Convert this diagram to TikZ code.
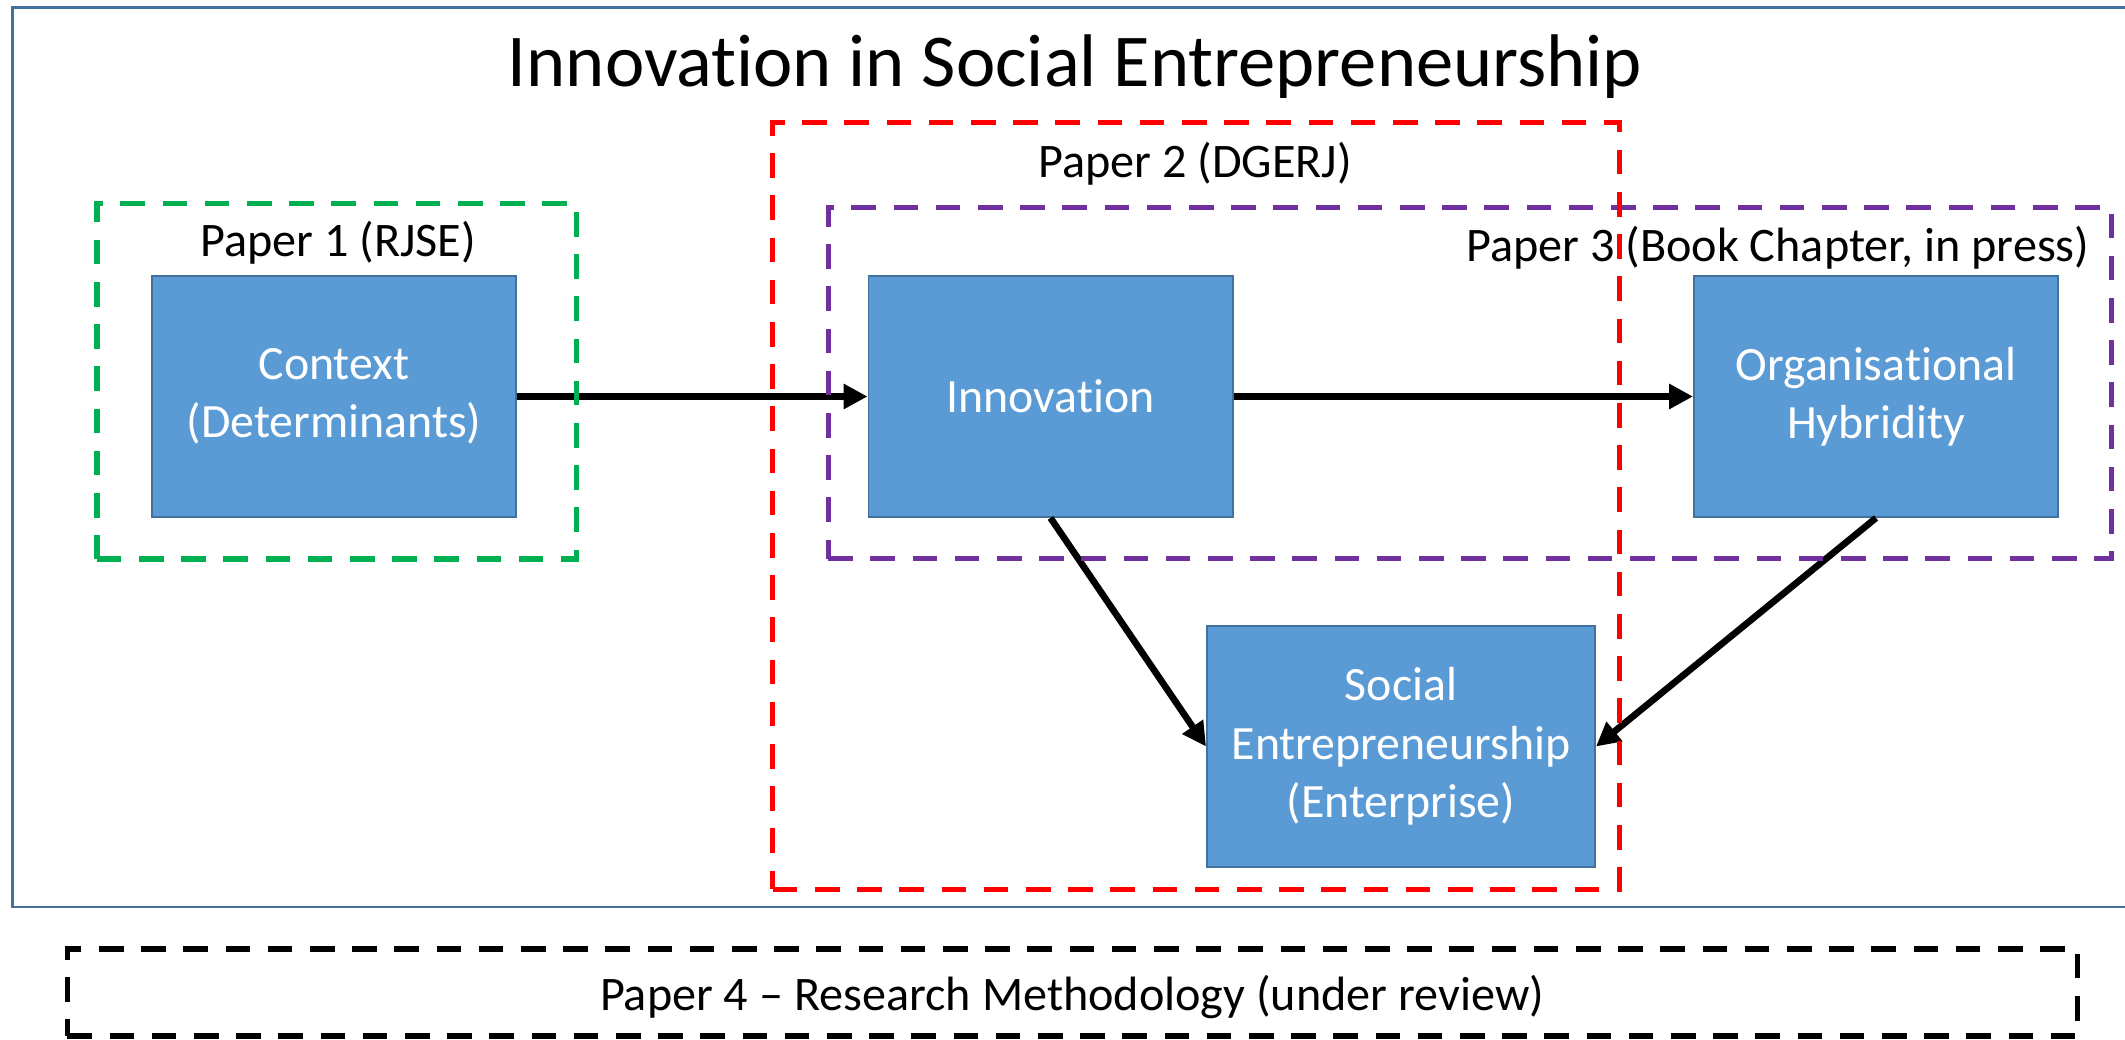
\documentclass[tikz,border=0pt]{standalone}
\usepackage{fontspec}
\setmainfont{Carlito}[Ligatures=NoCommon]
\usetikzlibrary{arrows.meta}

\definecolor{frameblue}{RGB}{65,113,156}
\definecolor{boxfill}{RGB}{91,155,213}
\definecolor{boxline}{RGB}{65,113,156}
\definecolor{pgreen}{RGB}{0,176,80}
\definecolor{pred}{RGB}{255,0,0}
\definecolor{ppurple}{RGB}{112,48,160}

\begin{document}
\begin{tikzpicture}[x=0.01cm,y=-0.01cm,
  concept/.style={draw=boxline, line width=0.5pt, fill=boxfill, text=white,
    inner sep=0pt, minimum width=3.64cm, minimum height=2.41cm,
    align=center, font=\fontsize{13.6}{16.6}\selectfont},
  paperbox/.style={draw=#1, line width=1.5pt, dash pattern=on 7pt off 5pt,
    inner sep=0pt},
  paperlabel/.style={inner sep=0pt, font=\fontsize{13.7}{16.6}\selectfont},
  arr/.style={line width=1.9pt, -{Triangle[length=6.8pt,width=6.8pt]}}
]
\useasboundingbox (0,0) rectangle (2125,1040);

% outer frame
\draw[frameblue, line width=0.8pt] (12.5,7.7) rectangle (2140,907);

% title
\node[anchor=base, inner sep=0pt, font=\fontsize{21.2}{25}\selectfont] (title)
  at (1075,87) {Innovation in Social Entrepreneurship};

% concept boxes
\node[concept] (ctx) at (334,396.5) {Context\\(Determinants)};
\node[concept] (inn) at (1050.5,396.5) {Innovation};
\node[concept] (org) at (1876,396.5) {Organisational\\Hybridity};
\node[concept, minimum width=3.88cm] (se) at (1401,746.5)
  {Social\\Entrepreneurship\\(Enterprise)};

% relations
\draw[arr] (ctx.east) -- (inn.west);
\draw[arr] (inn.east) -- (org.west);
\draw[arr] (inn.south) -- (se.west);
\draw[arr] (org.south) -- (se.east);

% paper labels
\node[paperlabel, anchor=base] (l1) at (338,257) {Paper 1 (RJSE)};
\node[paperlabel, anchor=base] (l2) at (1195,178) {Paper 2 (DGERJ)};
\node[paperlabel, anchor=base east] (l3) at (2090,262) {Paper 3 (Book Chapter, in press)};
\node[paperlabel, anchor=base] (l4) at (1072,1010) {Paper 4 – Research Methodology (under review)};

% paper groupings
\node[paperbox=pgreen, minimum width=4.79cm, minimum height=3.554cm] (p1) at (336.5,381.3) {};
\node[paperbox=ppurple, minimum width=12.824cm, minimum height=3.508cm] (p3) at (1469.8,383.1) {};
\node[paperbox=pred, minimum width=8.46cm, minimum height=7.66cm] (p2) at (1196,506) {};
\node[paperbox=black, minimum width=20.09cm, minimum height=0.87cm] (p4) at (1072.5,992.5) {};
\end{tikzpicture}
\end{document}
